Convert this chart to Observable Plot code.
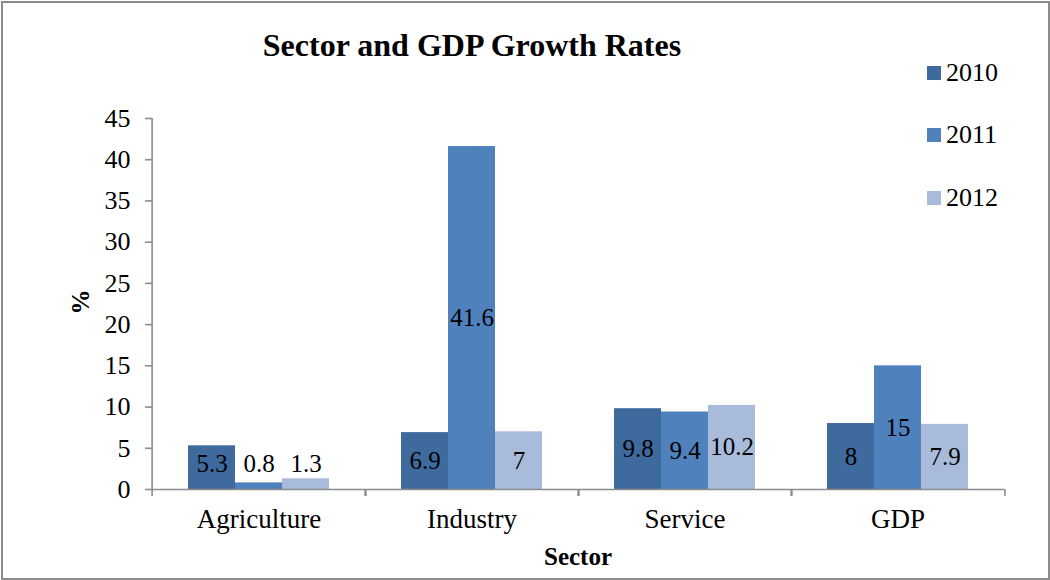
<!DOCTYPE html>
<html>
<head>
<meta charset="utf-8">
<script src="https://cdn.jsdelivr.net/npm/d3@7"></script>
<script src="https://cdn.jsdelivr.net/npm/@observablehq/plot@0.6"></script>
<style>
  html, body { margin: 0; padding: 0; background: #fff; }
  #wrap { position: relative; width: 1050px; height: 580px; font-family: "Liberation Serif", "Times New Roman", serif; }
  #wrap * { font-family: "Liberation Serif", "Times New Roman", serif !important; }
  #border { position: absolute; left: 1px; top: 1px; width: 1045px; height: 575px; border: 2px solid #8c8c8c; box-sizing: content-box; pointer-events: none; }
  #chart { position: absolute; left: 0; top: 0; }
  .title { position: absolute; left: 0; width: 944px; top: 27px; text-align: center; font-weight: bold; font-size: 32px; color: #000; white-space: nowrap; }
  .legend { position: absolute; left: 927px; top: 0; }
  .legend .item { position: absolute; left: 0; white-space: nowrap; font-size: 26px; color: #000; height: 30px; line-height: 30px; }
  .legend .sw { display: inline-block; width: 14px; height: 14px; margin-right: 5px; vertical-align: 1px; }
  .ylab { position: absolute; left: 66px; top: 287px; width: 30px; height: 30px; line-height: 30px; text-align: center; transform: rotate(-90deg); font-weight: bold; font-size: 25px; }
  .xlab { position: absolute; left: 478px; width: 200px; top: 543px; text-align: center; font-weight: bold; font-size: 25px; }
</style>
</head>
<body>
<div id="wrap">
  <div id="chart"></div>
  <div class="title">Sector and GDP Growth Rates</div>
  <div class="legend" id="legend"></div>
  <div class="ylab">%</div>
  <div class="xlab">Sector</div>
  <div id="border"></div>
</div>
<script>
const sectors = ["Agriculture", "Industry", "Service", "GDP"];
const years = ["2010", "2011", "2012"];
const values2010 = [5.3, 6.9, 9.8, 8];
const values2011 = [0.8, 41.6, 9.4, 15];
const values2012 = [1.3, 7, 10.2, 7.9];
const yTicks = [0, 5, 10, 15, 20, 25, 30, 35, 40, 45];
const colors = ["#3E6A9E", "#4F81BD", "#A9BBDA"];

const series = [values2010, values2011, values2012];
const rows = [];
sectors.forEach((s, i) => years.forEach((y, j) => rows.push({sector: s, year: y, value: series[j][i]})));

const W = 1050, H = 580, mt = 118, mb = 91, ml = 150, mr = 45;
const half = (W - ml - mr) / sectors.length / 2;
const frameH = H - mt - mb;
const axisGray = "#8c8c8c";
const serif = "Liberation Serif, Times New Roman, serif";

const chart = Plot.plot({
  width: W, height: H,
  marginTop: mt, marginBottom: mb, marginLeft: ml, marginRight: mr,
  style: {fontFamily: serif, background: "white", color: "#000"},
  fx: {domain: sectors, padding: 0, label: null},
  x: {domain: years, paddingInner: 0, paddingOuter: 0.75, axis: null},
  y: {domain: [0, 45], label: null},
  color: {domain: years, range: colors},
  marks: [
    Plot.barY(rows, {fx: "sector", x: "year", y: "value", fill: "year"}),
    Plot.text(rows, {fx: "sector", x: "year", y: d => Math.max(d.value / 2, 3.1), text: d => String(d.value), fontSize: 25, fontFamily: serif, fill: "#000"}),
    Plot.ruleY([0], {stroke: axisGray, strokeWidth: 1.6}),
    Plot.ruleX(sectors, {fx: d => d, x: null, dx: -half, insetTop: frameH, insetBottom: -7, stroke: axisGray, strokeWidth: 1.6}),
    Plot.ruleX(sectors, {fx: d => d, x: null, dx: half, insetTop: frameH, insetBottom: -7, stroke: axisGray, strokeWidth: 1.6}),
    Plot.ruleX(sectors.slice(0, 1), {fx: d => d, x: null, dx: -half, stroke: axisGray, strokeWidth: 1.6}),
    Plot.axisY({ticks: yTicks, tickSize: 7, tickPadding: 15, fontSize: 26, fontFamily: serif, stroke: axisGray, strokeWidth: 1.6, fill: "#000", label: null}),
    Plot.axisFx({anchor: "bottom", tickSize: 0, tickPadding: 19, fontSize: 27, fontFamily: serif, fill: "#000", label: null})
  ]
});
document.getElementById("chart").appendChild(chart);

const legend = document.getElementById("legend");
const legendTops = [58, 120, 183];
years.forEach((y, j) => {
  const item = document.createElement("div");
  item.className = "item";
  item.style.top = legendTops[j] + "px";
  item.innerHTML = `<span class="sw" style="background:${colors[j]}"></span>${y}`;
  legend.appendChild(item);
});
</script>
</body>
</html>
